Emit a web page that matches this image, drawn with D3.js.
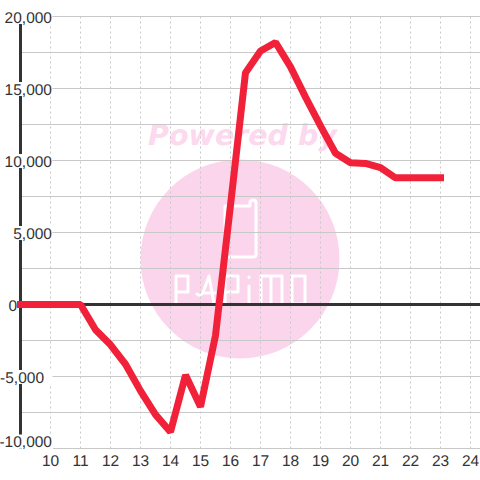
<!DOCTYPE html>
<html>
<head>
<meta charset="utf-8">
<script src="https://cdn.jsdelivr.net/npm/d3@7"></script>
<style>
  html, body { margin: 0; padding: 0; background: #fff; }
  svg { display: block; }
  text { font-family: "Liberation Sans", Arial, sans-serif; text-rendering: geometricPrecision; }
</style>
</head>
<body>
<svg id="chart" width="480" height="480"></svg>
<script>
const hours = [9, 9.5, 10, 10.5, 11, 11.5, 12, 12.5, 13, 13.5, 14, 14.5, 15, 15.5, 16, 16.5, 17, 17.5, 18, 18.5, 19, 19.5, 20, 20.5, 21, 21.5, 22, 22.5, 23];
const values = [0, 0, 0, 0, 0, -1750, -2800, -4150, -6000, -7650, -8850, -4900, -7100, -2150, 6900, 16100, 17600, 18200, 16500, 14400, 12400, 10500, 9850, 9800, 9500, 8800, 8800, 8800, 8800];
const xTicks = [10, 11, 12, 13, 14, 15, 16, 17, 18, 19, 20, 21, 22, 23, 24];
const yLabelTicks = [20000, 15000, 10000, 5000, 0, -5000, -10000];
const yGridTicks = [20000, 17500, 15000, 12500, 10000, 7500, 5000, 2500, -2500, -5000, -7500];

const svg = d3.select("#chart");
const width = +svg.attr("width");
const margin = { top: 16.5, bottom: 31.5, left: 20.5 };
const innerBottom = +svg.attr("height") - margin.bottom;

const xScale = d3.scaleLinear().domain([9, 24]).range([margin.left, 470.5]);
const yScale = d3.scaleLinear().domain([-10000, 20000]).range([innerBottom, margin.top]);
const line = d3.line().x((d, i) => xScale(hours[i])).y(d => yScale(d));

// watermark sits under the grid
const mark = svg.append("g");
mark.append("circle").attr("cx", 240).attr("cy", 259).attr("r", 99.5).attr("fill", "#fbd5ec");
mark.append("text")
  .attr("x", 242.5).attr("y", 145)
  .attr("text-anchor", "middle")
  .attr("fill", "#fcd9ee")
  .style("font-family", "'DejaVu Sans'")
  .style("font-weight", "bold")
  .style("font-style", "italic")
  .style("font-size", "28.5px")
  .text("Powered by");

const logo = mark.append("g")
  .attr("fill", "none")
  .attr("stroke", "#fff")
  .attr("stroke-width", 3)
  .attr("stroke-linejoin", "round")
  .attr("stroke-linecap", "round");
logo.append("path").attr("d", "M225 206V255Q225 257 227 257H253Q256 257 256 254V203Q256 200 253 200Q250 200 250 203V206Z");
logo.append("path").attr("d", "M176 304V276H188V292H176");
logo.append("path").attr("d", "M197 294Q201 298 204 290L209 276L214 304M203 293H215");
logo.append("path").attr("d", "M225 304V276H238V292H225");
logo.append("path").attr("d", "M249 304V286M249 277V277.5");
logo.append("path").attr("d", "M261 304V276H271V304M271 276H282V304");
logo.append("path").attr("d", "M292 276H305V304H292Z");

// grid
const grid = svg.append("g");
grid.append("g")
  .selectAll("line")
  .data(xTicks)
  .join("line")
  .attr("x1", d => xScale(d)).attr("x2", d => xScale(d))
  .attr("y1", margin.top).attr("y2", innerBottom)
  .attr("stroke", "#c8c8c8")
  .attr("stroke-dasharray", "2,3");
grid.append("g")
  .selectAll("line")
  .data(yGridTicks)
  .join("line")
  .attr("x1", margin.left).attr("x2", width)
  .attr("y1", d => yScale(d)).attr("y2", d => yScale(d))
  .attr("stroke", "#c8c8c8");
grid.append("line")
  .attr("x1", 53).attr("x2", width)
  .attr("y1", yScale(-10000)).attr("y2", yScale(-10000))
  .attr("stroke", "#c8c8c8");

// dark axes
svg.append("line")
  .attr("x1", margin.left).attr("x2", margin.left)
  .attr("y1", yScale(20000) + 7.5).attr("y2", yScale(-10000))
  .attr("stroke", "#333").attr("stroke-width", 3);
svg.append("line")
  .attr("x1", margin.left).attr("x2", width)
  .attr("y1", yScale(0)).attr("y2", yScale(0))
  .attr("stroke", "#333").attr("stroke-width", 3);

// y labels knock out what is behind them, zero sits left of the axis
const labelRight = d => d === 0 ? 17 : (d === -5000 ? 44 : 52);
const labelShift = d => d === -10000 ? -7 : 0.5;
const yLabels = svg.append("g")
  .selectAll("g")
  .data(yLabelTicks)
  .join("g")
  .attr("transform", d => `translate(0,${yScale(d) + labelShift(d)})`);
yLabels.filter(d => d !== 0).append("rect")
  .attr("x", 1)
  .attr("y", -7)
  .attr("width", 51.5)
  .attr("height", 14)
  .attr("fill", "#fff");
yLabels.append("text")
  .attr("x", labelRight)
  .attr("y", 5.5)
  .attr("text-anchor", "end")
  .attr("fill", "#333")
  .style("font-size", "15.5px")
  .text(d => d3.format(",")(d).replace("\u2212", "-"));

svg.append("g")
  .selectAll("text")
  .data(xTicks)
  .join("text")
  .attr("x", d => xScale(d))
  .attr("y", 466)
  .attr("text-anchor", "middle")
  .attr("fill", "#333")
  .style("font-size", "15.5px")
  .text(d => d);

svg.append("path")
  .datum(values)
  .attr("fill", "none")
  .attr("stroke", "#f02138")
  .attr("stroke-width", 7)
  .attr("stroke-linecap", "square")
  .attr("stroke-linejoin", "bevel")
  .attr("d", line);
</script>
</body>
</html>
